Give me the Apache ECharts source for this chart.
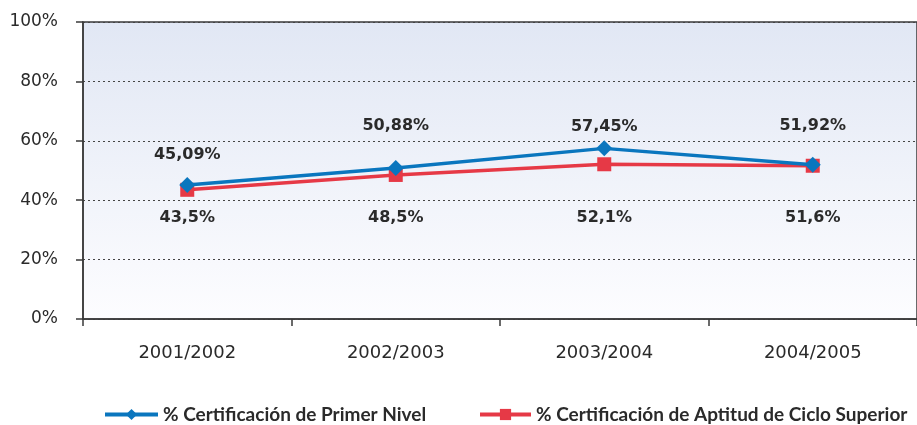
<!DOCTYPE html>
<html>
<head>
<meta charset="utf-8">
<script src="https://cdn.jsdelivr.net/npm/echarts@6/dist/echarts.min.js"></script>
<style>
  html, body { margin: 0; padding: 0; background: #ffffff; }
  #chart { width: 917px; height: 425px; }
</style>
</head>
<body>
<div id="chart"></div>
<script>
// School years on the category axis
const years = ['2001/2002', '2002/2003', '2003/2004', '2004/2005'];

// Certification rates (%)
const primerNivel = [45.09, 50.88, 57.45, 51.92];
const cicloSuperior = [43.5, 48.5, 52.1, 51.6];

const seriesNames = ['% Certificación de Primer Nivel', '% Certificación de Aptitud de Ciclo Superior'];

// Y axis ticks
const yMin = 0, yMax = 100, yStep = 20;

// Vertical nudges for value labels (px) so they sit in rows above / below the lines
const blueLabelShift = [4, -8, 12, -5];
const redLabelShift = [-5, 10, 21, 19];

const fmt = v => String(v).replace('.', ',') + '%';

const chart = echarts.init(document.getElementById('chart'));
const axisFont = '"DejaVu Sans", sans-serif';
const boldFont = 'Lato, "Open Sans", sans-serif';

const legendText = { fontFamily: boldFont, fontWeight: 'bold', fontSize: 19, color: '#2a2a2a' };

chart.setOption({
  animation: false,
  textStyle: { fontFamily: axisFont },
  grid: {
    left: 83, top: 22, right: -8, bottom: 106,
    show: true,
    borderColor: '#3a3a3a',
    borderWidth: 1.5,
    backgroundColor: {
      type: 'linear', x: 0, y: 0, x2: 0, y2: 1,
      colorStops: [
        { offset: 0, color: '#e1e7f4' },
        { offset: 1, color: '#fdfdff' }
      ]
    }
  },
  legend: [
    {
      data: [seriesNames[0]],
      left: 103, top: 405, padding: 0,
      itemWidth: 53, itemHeight: 14,
      lineStyle: { width: 4 },
      textStyle: legendText
    },
    {
      data: [seriesNames[1]],
      left: 478, top: 405, padding: 0,
      itemWidth: 51, itemHeight: 14,
      lineStyle: { width: 4 },
      textStyle: legendText
    }
  ],
  xAxis: {
    type: 'category',
    data: years,
    boundaryGap: true,
    axisLine: { lineStyle: { color: '#3a3a3a', width: 1.5 } },
    axisTick: { show: true, length: 7, lineStyle: { color: '#3a3a3a', width: 1.5 } },
    axisLabel: { margin: 25, fontSize: 18, color: '#2a2a2a', fontFamily: axisFont }
  },
  yAxis: {
    type: 'value',
    min: yMin, max: yMax, interval: yStep,
    axisLine: { show: true, lineStyle: { color: '#3a3a3a', width: 1.5 } },
    axisTick: { show: true, length: 7, lineStyle: { color: '#3a3a3a', width: 1.5 } },
    axisLabel: { formatter: '{value}%', margin: 25, fontSize: 17, color: '#2a2a2a', fontFamily: axisFont },
    splitLine: { show: true, lineStyle: { color: '#444', width: 1, type: [2, 3] } }
  },
  series: [
    {
      name: seriesNames[0],
      type: 'line',
      data: primerNivel.map((v, i) => ({
        value: v,
        label: { offset: [0, blueLabelShift[i]] }
      })),
      symbol: 'diamond',
      symbolSize: 16,
      lineStyle: { color: '#0a76be', width: 3.5 },
      itemStyle: { color: '#0a76be' },
      z: 3,
      label: {
        show: true, position: 'top', distance: 18,
        formatter: p => fmt(p.value),
        fontFamily: axisFont, fontWeight: 'bold', fontSize: 16, color: '#2a2a2a'
      }
    },
    {
      name: seriesNames[1],
      type: 'line',
      data: cicloSuperior.map((v, i) => ({
        value: v,
        label: { offset: [0, redLabelShift[i]] }
      })),
      symbol: 'rect',
      symbolSize: 14,
      lineStyle: { color: '#e63946', width: 3.5 },
      itemStyle: { color: '#e63946' },
      z: 2,
      label: {
        show: true, position: 'bottom', distance: 18,
        formatter: p => fmt(p.value),
        fontFamily: axisFont, fontWeight: 'bold', fontSize: 16, color: '#2a2a2a'
      }
    }
  ]
});
</script>
</body>
</html>
